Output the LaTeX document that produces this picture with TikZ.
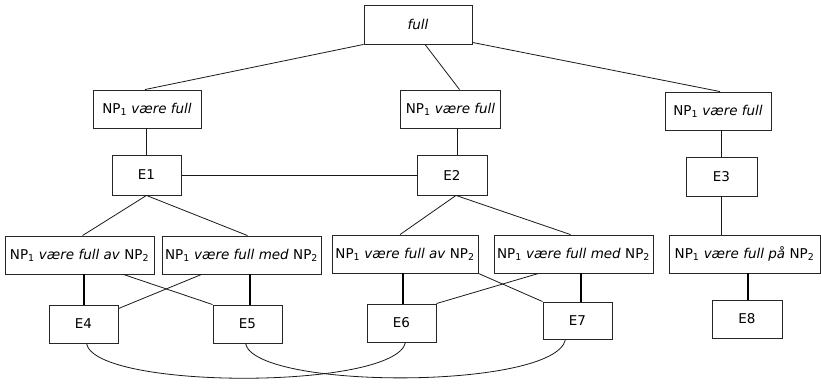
\documentclass[tikz,border=0pt]{standalone}
\usepackage{fontspec}
\setmainfont{DejaVu Sans}
\usetikzlibrary{calc}
\newcommand\sbx[1]{\textsubscript{#1}}
\begin{document}
\begin{tikzpicture}[x=1pt,y=-1pt,
  box/.style={draw=black!85,line width=0.9pt,inner sep=0pt,font=\fontsize{13.5}{15}\selectfont},
  thin/.style={line width=0.8pt,black!90},
  thick/.style={line width=2pt,black}]
\useasboundingbox (0,0) rectangle (821,383);
\node[box,minimum width=108,minimum height=39] (full) at (418,24.5) {\itshape full};
\node[box,minimum width=108,minimum height=38] (npL) at (147,109) {NP\sbx{1} \itshape være full};
\node[box,minimum width=100,minimum height=38] (npM) at (450.5,109) {NP\sbx{1} \itshape være full};
\node[box,minimum width=106,minimum height=38] (npR) at (718,111) {NP\sbx{1} \itshape være full};
\node[box,minimum width=69,minimum height=40] (E1) at (146.5,175) {E1};
\node[box,minimum width=70,minimum height=40] (E2) at (452,175) {E2};
\node[box,minimum width=71,minimum height=39] (E3) at (721.5,176.5) {E3};
\node[box,minimum width=149,minimum height=38] (avL) at (79.5,255) {NP\sbx{1} \textit{være full av} NP\sbx{2}};
\node[box,minimum width=159,minimum height=38] (medL) at (241.5,255) {NP\sbx{1} \textit{være full med} NP\sbx{2}};
\node[box,minimum width=146,minimum height=38] (avM) at (405,254) {NP\sbx{1} \textit{være full av} NP\sbx{2}};
\node[box,minimum width=159,minimum height=38] (medM) at (573.5,254) {NP\sbx{1} \textit{være full med} NP\sbx{2}};
\node[box,minimum width=151,minimum height=38] (paa) at (744.5,254) {NP\sbx{1} \textit{være full på} NP\sbx{2}};
\node[box,minimum width=69,minimum height=38] (E4) at (83.5,324) {E4};
\node[box,minimum width=69,minimum height=38] (E5) at (247.5,324) {E5};
\node[box,minimum width=69,minimum height=38] (E6) at (401.5,323) {E6};
\node[box,minimum width=69,minimum height=37] (E7) at (577.5,320.5) {E7};
\node[box,minimum width=70,minimum height=38] (E8) at (747,319) {E8};
% top level
\draw[thin] (full.south west) -- ([xshift=-2pt]npL.north);
\draw[thin] ([xshift=7pt]full.south) -- ([xshift=9pt]npM.north);
\draw[thin] ([yshift=2pt]full.south east) -- ([xshift=2pt]npR.north);
\draw[thin] (E1.north) -- (E1.north |- npL.south);
\draw[thin] ([xshift=5pt]E2.north) -- ([xshift=5pt]E2.north |- npM.south);
\draw[thin] (E3.north) -- (E3.north |- npR.south);
\draw[thin] (E1.east) -- (E2.west);
\draw[thin] (E1.south) -- ([xshift=3pt]avL.north);
\draw[thin] (E1.south) -- ([xshift=6pt]medL.north);
\draw[thin] ([xshift=4pt]E2.south) -- ([xshift=-5pt]avM.north);
\draw[thin] ([xshift=4pt]E2.south) -- ([xshift=-3pt]medM.north);
\draw[thin] (E3.south) -- (E3.south |- paa.north);
% bottom connections
\draw[thick] (E4.north) -- (E4.north |- avL.south);
\draw[thin] ([xshift=-31pt]avL.south east) -- (E5.north west);
\draw[thin] ([xshift=-40pt]medL.south) -- ([yshift=-4pt]E4.north east);
\draw[thick] ([xshift=2pt]E5.north) -- ([xshift=2pt]E5.north |- medL.south);
\draw[thick] ([xshift=1.5pt]E6.north) -- ([xshift=1.5pt]E6.north |- avM.south);
\draw[thin] (avM.south east) -- (E7.north west);
\draw[thin] ([xshift=-35pt]medM.south) -- (E6.north east);
\draw[thick] ([xshift=3pt]E7.north) -- ([xshift=3pt]E7.north |- medM.south);
\draw[thick] ([xshift=1pt]E8.north) -- ([xshift=1pt]E8.north |- paa.south);
% curves
\draw[thin] ([xshift=3pt]E4.south) .. controls (95,390) and (395,390) .. ([xshift=4pt]E6.south);
\draw[thin] ([xshift=-2pt]E5.south) .. controls (255,390) and (555,390) .. ([xshift=-12pt]E7.south);
\end{tikzpicture}
\end{document}
